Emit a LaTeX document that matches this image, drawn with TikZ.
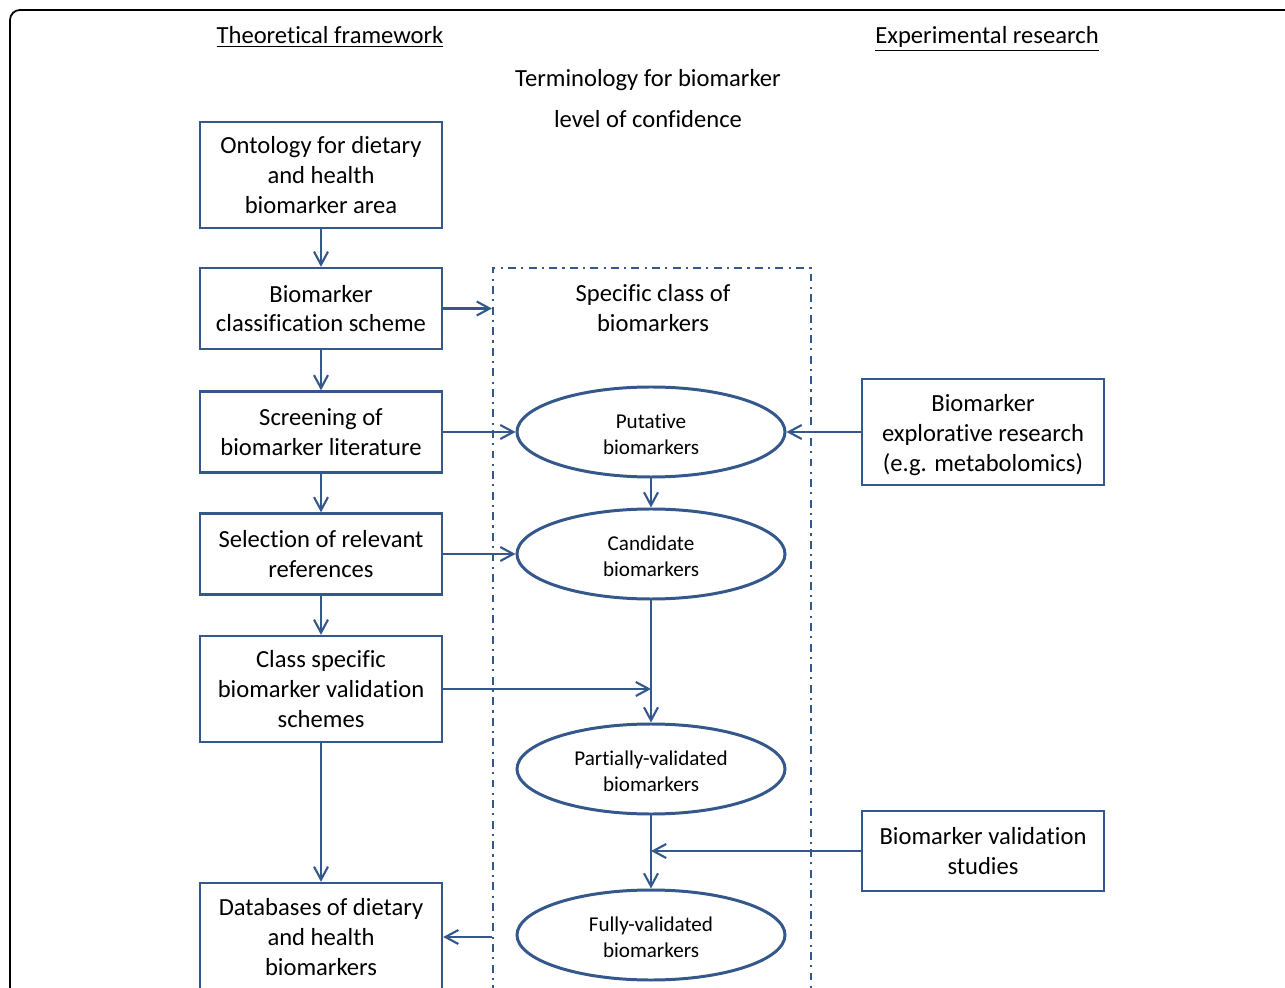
\documentclass[tikz,border=0pt]{standalone}
\usepackage{fontspec}
\setmainfont{Carlito}[Ligatures={NoCommon,NoContextual}, Contextuals=NoAlternate]
\usetikzlibrary{shapes.geometric, arrows.meta, positioning, calc}
\definecolor{flowblue}{RGB}{52, 88, 140}
\newcommand{\ellstrut}{\rule{0pt}{11pt}}

\begin{document}
\begin{tikzpicture}[
  stagebox/.style={draw=flowblue, line width=1.3pt, minimum width=4.84cm, minimum height=1.62cm, align=center, inner sep=2pt, font=\fontsize{14}{17}\selectfont},
  tallbox/.style={stagebox, minimum height=2.12cm},
  levelell/.style={ellipse, draw=flowblue, line width=1.7pt, minimum width=5.36cm, minimum height=1.8cm, align=center, inner sep=0pt, font=\fontsize{12}{14.7}\selectfont},
  flow/.style={draw=flowblue, line width=1.2pt, -{Straight Barb[length=2.6mm, width=2.8mm]}},
  heading/.style={font=\fontsize{14}{17}\selectfont, align=center}
]
  \useasboundingbox (0,0) rectangle (25.7,19.74);

  % Frame
  \draw[line width=1pt, rounded corners=0.2cm] (0.2,19.54) rectangle (26.2,-0.5);

  % Headings
  \node[heading, anchor=base] (theo) at (6.6,18.87) {\underline{Theoretical framework}};
  \node[heading, anchor=base] (expt) at (19.74,18.87) {\underline{Experimental research}};
  \node[heading, font=\fontsize{14}{23}\selectfont] (term) at (12.96,17.77) {Terminology for biomarker\\level of confidence};

  % Specific class
  \node[draw=flowblue, line width=1.2pt, dash pattern=on 4.5pt off 3pt on 1.2pt off 3pt, minimum width=6.36cm, minimum height=14.88cm] (cls) at (13.04,6.94) {};
  \node[heading] (clslabel) at (13.06,13.58) {Specific class of\\biomarkers};

  % Theoretical framework
  \node[tallbox] (onto) at (6.42,16.24) {Ontology for dietary\\and health\\biomarker area};
  \node[stagebox] (classif) at (6.42,13.57) {Biomarker\\classification scheme};
  \node[stagebox] (screen) at (6.42,11.1) {Screening of\\biomarker literature};
  \node[stagebox] (select) at (6.42,8.66) {Selection of relevant\\references};
  \node[tallbox] (valscheme) at (6.42,5.96) {Class specific\\biomarker validation\\schemes};
  \node[tallbox, minimum height=2.16cm] (dbase) at (6.42,1.0) {Databases of dietary\\and health\\biomarkers};

  % Levels of confidence
  \node[levelell] (put) at (13.02,11.1) {\ellstrut Putative\\biomarkers};
  \node[levelell] (cand) at (13.02,8.66) {\ellstrut Candidate\\biomarkers};
  \node[levelell] (part) at (13.02,4.36) {\ellstrut Partially-validated\\biomarkers};
  \node[levelell] (full) at (13.02,1.04) {\ellstrut Fully-validated\\biomarkers};

  % Experimental research
  \node[tallbox] (explor) at (19.66,11.1) {\rule{0pt}{13.3pt}Biomarker\\explorative research\\(e.g. metabolomics)};
  \node[stagebox, minimum height=1.6cm] (valstud) at (19.66,2.72) {Biomarker validation\\studies};

  % Connectors
  \draw[flow] (onto) -- (classif);
  \draw[flow] (classif) -- (screen);
  \draw[flow] (screen) -- (select);
  \draw[flow] (select) -- (valscheme);
  \draw[flow] (valscheme) -- (dbase);
  \draw[flow] (classif.east) -- (cls.west |- classif.east);
  \draw[flow] (screen.east) -- (put.west);
  \draw[flow] (explor.west) -- (put.east);
  \draw[flow] (put) -- (cand);
  \draw[flow] (select.east) -- (cand.west);
  \draw[flow] (cand) -- (part);
  \draw[flow] (valscheme.east) -- (cand.south |- valscheme.east);
  \draw[flow] (part) -- (full);
  \draw[flow] (valstud.west) -- (part.south |- valstud.west);
  \draw[flow] (cls.west |- dbase.east) -- (dbase.east);
\end{tikzpicture}
\end{document}
